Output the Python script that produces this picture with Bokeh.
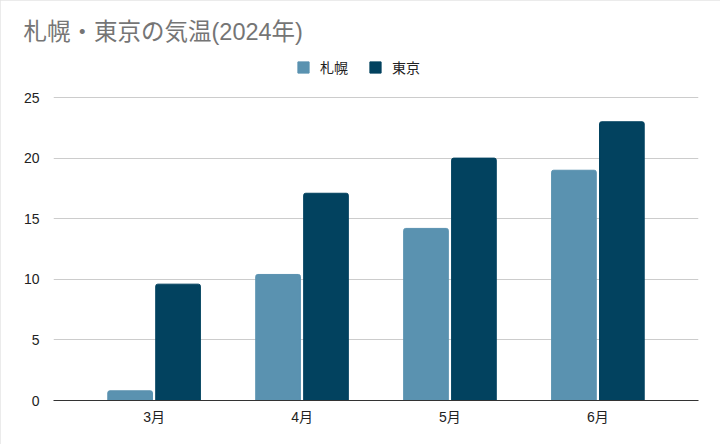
from bokeh.plotting import figure
from bokeh.models import FactorRange, ColumnDataSource, Legend, LegendItem, Title, Range1d
from bokeh.transform import dodge
from bokeh.embed import file_html
from bokeh.resources import INLINE

months = ["3月", "4月", "5月", "6月"]
sapporo = [0.8, 10.4, 14.2, 19.0]
tokyo = [9.6, 17.1, 20.0, 23.0]
y_ticks = [0, 5, 10, 15, 20, 25]

FONT = "'Liberation Sans', 'Noto Sans CJK JP', sans-serif"
C_SAP = "#5a92b0"
C_TOK = "#02425f"

src = ColumnDataSource(dict(month=months, sapporo=sapporo, tokyo=tokyo))

# frame spans from y=50 to y=400 px; value 25 lands at ~97 px, leaving room for the legend
p = figure(width=720, height=444, output_backend="svg", toolbar_location=None,
           x_range=FactorRange(factors=months, range_padding=0.09),
           y_range=Range1d(0, 28.88), min_border_left=53, min_border_right=22,
           min_border_bottom=44, min_border_top=50)

r1 = p.vbar(x=dodge("month", -0.162, range=p.x_range), top="sapporo", width=0.302,
            source=src, color=C_SAP, border_radius=[2, 2, 0, 0])
r2 = p.vbar(x=dodge("month", 0.162, range=p.x_range), top="tokyo", width=0.302,
            source=src, color=C_TOK, border_radius=[2, 2, 0, 0])

p.title = Title(text="札幌・東京の気温(2024年)", text_font=FONT, text_font_size="23.5px",
                text_color="#757575", text_font_style="normal", align="left", offset=-30,
                standoff=12)

legend = Legend(items=[LegendItem(label="札幌", renderers=[r1]),
                       LegendItem(label="東京", renderers=[r2])],
                orientation="horizontal", location=(243, 323),
                label_text_font=FONT, label_text_font_size="14px", label_text_color="#222222",
                glyph_width=14, glyph_height=14, spacing=20, label_standoff=10,
                padding=4, margin=0, border_line_color=None, background_fill_alpha=0)
p.add_layout(legend, "center")

p.outline_line_color = None
p.xgrid.grid_line_color = None
p.ygrid.grid_line_color = "#cccccc"
p.ygrid.ticker = y_ticks
p.yaxis.ticker = y_ticks
p.yaxis.axis_line_color = None
p.yaxis.major_tick_line_color = None
p.yaxis.minor_tick_line_color = None
p.yaxis.major_label_text_font = FONT
p.yaxis.major_label_text_font_size = "14px"
p.yaxis.major_label_text_color = "#222222"
p.yaxis.major_label_standoff = 8

p.xaxis.axis_line_color = "#333333"
p.xaxis.axis_line_width = 1
p.xaxis.major_tick_line_color = None
p.xaxis.minor_tick_line_color = None
p.xaxis.major_label_text_font = FONT
p.xaxis.major_label_text_font_size = "14px"
p.xaxis.major_label_text_color = "#222222"
p.xaxis.major_label_standoff = 2

p.styles = {"outline": "1px solid #e4e4e4", "outline-offset": "-1px"}

open("out.html", "w").write(file_html(p, INLINE))
